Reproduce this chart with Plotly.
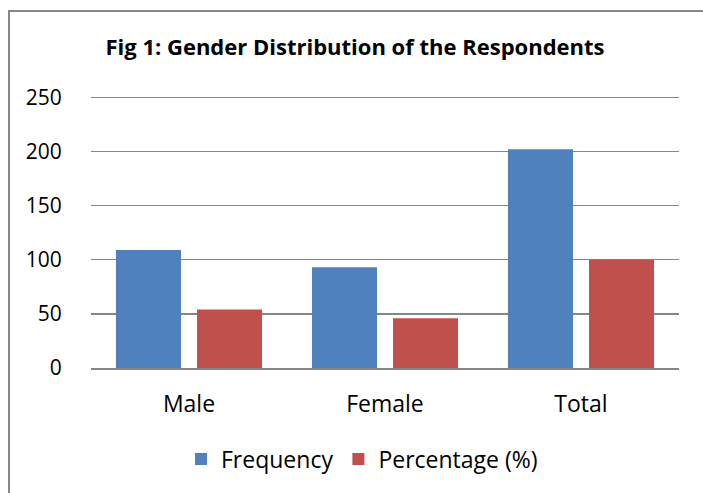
import plotly.graph_objects as go

categories = ["Male", "Female", "Total"]
frequency = [109, 93, 202]
percentage = [54, 46, 100]
y_ticks = [0, 50, 100, 150, 200, 250]
y_max = 253

W, H = 703, 493
L = 91
R = W - 679
B = H - 368
T = round(368 - y_max * (368 - 97) / 250)
pw, ph = W - L - R, H - T - B

def px_x(x):
    return (x - L) / pw

def px_y(y):
    return (H - B - y) / ph

font = "Open Sans, Lato, sans-serif"

fig = go.Figure()
fig.add_trace(go.Bar(name="Frequency", x=categories, y=frequency,
                     marker=dict(color="#4F81BD", line=dict(width=0))))
fig.add_trace(go.Bar(name="Percentage (%)", x=categories, y=percentage,
                     marker=dict(color="#C0504D", line=dict(width=0))))

border = dict(color="#878787", width=2)
fig.update_layout(
    width=W, height=H,
    margin=dict(l=L, r=R, t=T, b=B),
    paper_bgcolor="white", plot_bgcolor="white",
    barmode="group", bargap=0.173, bargroupgap=0.1975,
    font=dict(family=font, color="black", size=22),
    title=dict(text="<b>Fig 1: Gender Distribution of the Respondents</b>",
               x=px_x(355), xref="paper", xanchor="center",
               y=1 - 47 / H, yanchor="middle",
               font=dict(size=22, family=font, color="black")),
    showlegend=True,
    legend=dict(orientation="h", x=px_x(362), xanchor="center",
                y=px_y(459), yanchor="middle",
                font=dict(size=23, family=font),
                traceorder="normal"),
    shapes=[
        dict(type="line", xref="paper", yref="paper",
             x0=px_x(9), x1=px_x(9), y0=px_y(10), y1=px_y(600), line=border),
        dict(type="line", xref="paper", yref="paper",
             x0=px_x(8), x1=px_x(800), y0=px_y(11), y1=px_y(11), line=border),
    ],
)
fig.update_yaxes(range=[0, y_max], tickvals=y_ticks, showgrid=True,
                 gridcolor="#868686", gridwidth=1.5, zeroline=False,
                 showline=False, ticks="outside", ticklen=24,
                 tickcolor="rgba(0,0,0,0)",
                 tickfont=dict(size=21, family=font), fixedrange=True)
fig.update_xaxes(showline=True, linecolor="#868686", linewidth=1.5,
                 ticks="outside", ticklen=15, tickcolor="rgba(0,0,0,0)",
                 tickfont=dict(size=23, family=font), fixedrange=True)

fig.write_html(
    "out.html",
    config={"displayModeBar": False, "staticPlot": True},
    post_script="document.body.style.margin='0';document.body.style.overflow='hidden';",
)
